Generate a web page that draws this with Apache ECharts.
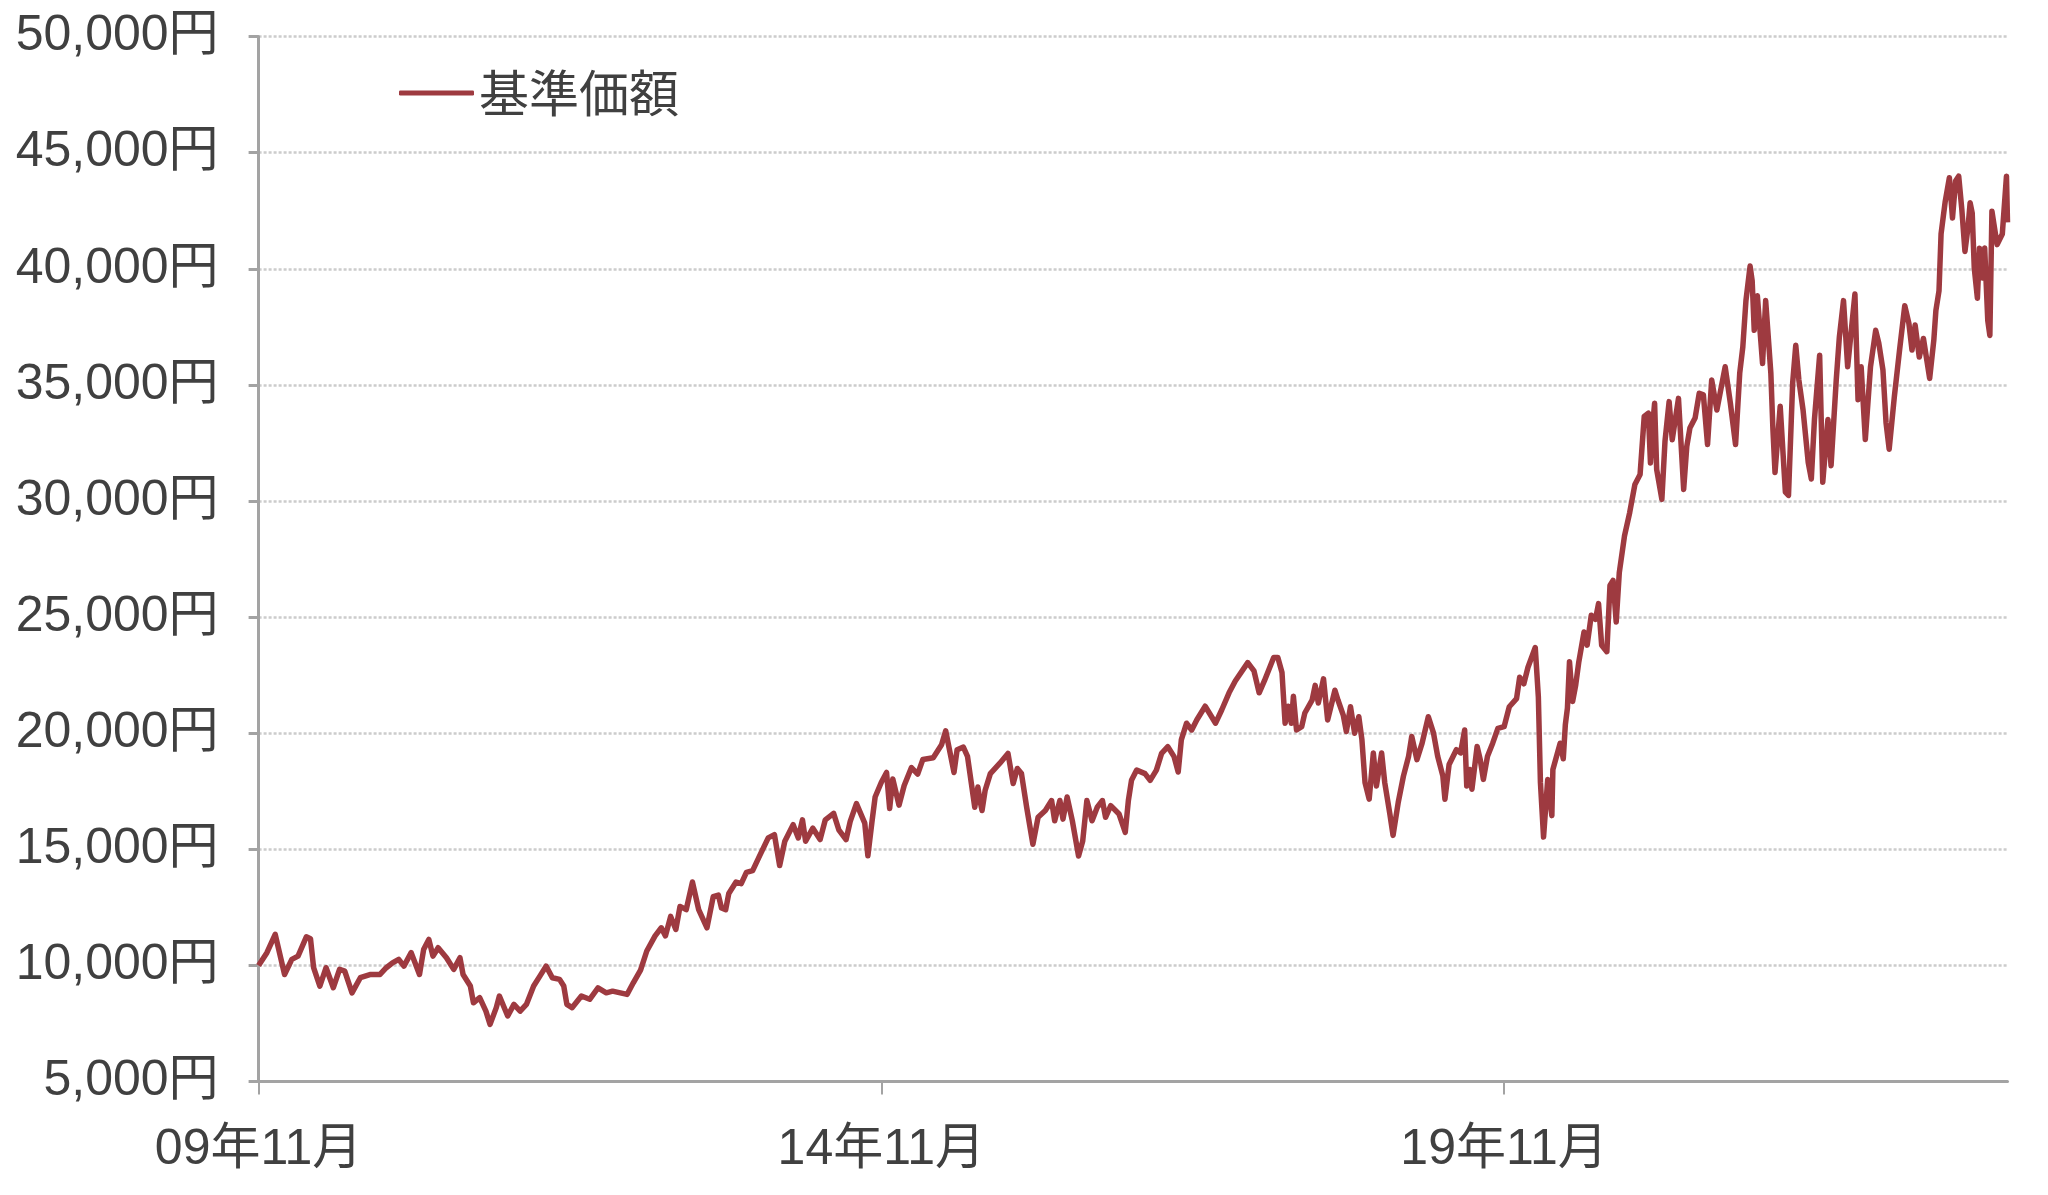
<!DOCTYPE html>
<html>
<head>
<meta charset="utf-8">
<script src="https://cdn.jsdelivr.net/npm/echarts@6/dist/echarts.min.js"></script>
<style>
html,body{margin:0;padding:0;background:#fff;}
#chart{width:2048px;height:1195px;}
</style>
</head>
<body>
<div id="chart"></div>
<script>
// x position: months elapsed since Nov 2009
const months = [
0,0.8,1.6,2.5,3.2,3.8,4.6,5.0,5.3,5.9,6.5,7.2,7.8,8.3,9.0,9.8,10.8,11.7,12.3,12.9,
13.5,14.0,14.7,15.5,15.9,16.4,16.8,17.3,18.1,18.8,19.4,19.7,20.4,20.7,21.3,21.9,22.3,22.9,23.2,24.0,
24.6,25.2,25.8,26.5,27.1,27.7,28.3,29.0,29.4,29.7,30.2,31.1,31.9,32.7,33.5,34.1,35.5,36.1,36.8,37.4,
38.2,38.8,39.2,39.7,40.2,40.6,41.2,41.8,42.4,43.2,43.8,44.3,44.6,45.0,45.3,46.0,46.5,47.0,47.6,48.2,
49.1,49.7,50.2,50.7,51.5,52.0,52.4,52.7,53.4,54.1,54.6,55.4,55.9,56.6,57.0,57.6,58.4,58.7,59.1,59.4,
60.0,60.5,60.8,61.1,61.7,62.2,62.9,63.5,64.0,65.0,65.8,66.2,67.0,67.3,67.9,68.3,69.0,69.3,69.5,69.7,
70.0,70.5,71.4,72.2,72.7,73.1,73.5,74.0,74.6,75.1,75.8,76.4,76.7,77.2,77.5,77.9,78.4,79.0,79.4,79.8,
80.3,80.8,81.3,81.6,82.1,82.9,83.5,83.8,84.1,84.6,85.4,85.9,86.5,87.0,87.6,88.2,88.6,88.9,89.4,89.9,
90.4,91.2,92.2,92.8,93.5,94.1,95.3,95.9,96.4,96.9,97.8,98.2,98.6,98.9,99.2,99.5,99.7,100.0,100.5,100.8,
101.5,101.8,102.1,102.6,103.0,103.7,104.0,104.5,104.8,105.2,105.6,106.0,106.3,106.6,107.0,107.4,107.7,108.2,108.5,109.0,
109.3,109.8,110.3,110.8,111.1,111.6,112.1,112.7,113.2,113.6,114.1,114.3,114.7,115.4,115.8,116.2,116.4,116.7,116.9,117.4,
117.7,118.0,118.4,118.9,119.4,120.0,120.5,121.2,121.5,121.9,122.3,123.0,123.3,123.5,123.8,124.2,124.6,124.7,125.4,125.7,
125.9,126.1,126.3,126.6,126.9,127.2,127.7,128.0,128.4,128.8,129.1,129.4,129.9,130.2,130.5,130.8,131.1,131.6,132.1,132.6,
133.1,133.5,133.9,134.1,134.3,134.5,134.7,135.2,135.5,135.9,136.2,136.8,137.3,137.6,137.9,138.4,138.8,139.2,139.6,140.0,
140.5,141.3,141.8,142.3,142.7,143.0,143.3,143.7,143.9,144.1,144.4,144.9,145.2,145.7,145.9,146.1,146.6,147.1,147.4,147.8,
148.1,148.4,148.8,149.3,149.6,149.9,150.4,150.7,151.2,151.5,152.0,152.3,152.7,153.1,153.8,154.1,154.4,154.8,155.3,155.8,
156.1,156.5,156.8,157.1,157.6,158.1,158.6,159.0,159.3,159.6,160.0,160.4,161.0,161.4,161.6,161.9,162.1,162.5,162.9,163.2,
163.5,163.8,164.1,164.4,164.7,164.9,165.1,165.3,165.6,165.8,166.1,166.3,166.6,166.8,167.0,167.2,167.5,168.0,168.4,168.5
];
// 基準価額 (円)
const navValues = [
10000,10550,11340,9610,10260,10400,11230,11150,9900,9110,9900,9040,9830,9750,8820,9470,9610,9610,9900,10110,
10260,9970,10550,9610,10680,11120,10400,10760,10330,9830,10330,9610,9110,8390,8610,8030,7460,8180,8680,7820,
8320,8030,8320,9110,9540,9970,9470,9400,9110,8320,8180,8680,8540,9030,8820,8890,8750,9250,9800,10620,
11270,11620,11270,12110,11550,12540,12400,13590,12400,11620,12960,13030,12470,12400,13100,13590,13520,14010,14080,14650,
15490,15630,14300,15350,16060,15490,16270,15350,15910,15420,16270,16550,15840,15420,16200,16970,16130,14720,16200,17250,
17890,18310,16760,18030,16900,17750,18520,18240,18870,18940,19500,20100,18310,19290,19400,19000,16810,17680,17100,16670,
17540,18260,18700,19130,17830,18480,18260,16810,15220,16380,16670,17100,16230,17100,16300,17250,16230,14710,15360,17100,
16230,16810,17100,16380,16880,16520,15730,17100,17970,18410,18260,17970,18410,19130,19420,18990,18330,19710,20430,20140,
20580,21160,20430,21010,21740,22250,23040,22680,21740,22250,23260,23260,22610,20430,21160,20430,21590,20140,20280,20870,
21420,22060,21300,22340,20570,21850,21420,20780,20070,21140,20000,20710,19720,17870,17160,19150,17730,19150,17870,16500,
15600,17020,18150,19010,19860,18860,19570,20710,20000,19010,18150,17160,18650,19290,19150,20140,17730,18440,17590,19430,
18860,18010,19010,19570,20210,20280,21140,21490,22410,22130,22840,23690,21560,17870,15530,18010,16450,18440,19570,18900,
20370,21080,23080,21370,22080,23080,24360,23790,25080,24900,25580,23790,23510,26360,26580,24790,26930,28500,29500,30710,
31140,33640,33780,31640,33200,34210,31360,30070,32570,34280,32640,34420,30500,32350,33140,33570,34640,34570,32430,35210,
33920,35780,34210,32430,35500,36640,38630,40120,39480,37350,38840,35920,38630,35500,33080,31230,34080,30380,30240,35070,
36710,35210,33930,31660,30950,33510,36280,30810,33510,31520,35210,37060,38630,35780,38910,34360,35780,32650,35780,37350,
36800,35640,33360,32230,34500,36500,38410,37650,36500,37580,36200,37000,35280,36920,38200,39050,41500,42900,43920,42190,
43780,43990,42550,40750,41800,42840,42400,40030,38730,40890,39600,40900,37770,37130,42480,41900,41040,41500,43990,42000
];
const xTickValues = [0, 60, 120];
const xTickLabels = ['09年11月', '14年11月', '19年11月'];
const yMin = 5000, yMax = 50000, yStep = 5000;
const seriesName = '基準価額';

const lineData = months.map((m, i) => [m, navValues[i]]);
const textColor = '#404040';
const axisGray = '#a3a3a3';
const fontLatin = "'Liberation Sans', 'Noto Sans CJK JP', sans-serif";

const chart = echarts.init(document.getElementById('chart'), null, {renderer: 'canvas'});
chart.setOption({
  animation: false,
  backgroundColor: '#ffffff',
  grid: {left: 258.6, right: 40.5, top: 36.6, bottom: 113.5, containLabel: false, outerBoundsMode: 'none'},
  legend: {
    show: true,
    left: 394, top: 63,
    icon: 'roundRect',
    itemWidth: 75, itemHeight: 5,
    textStyle: {fontSize: 50, color: textColor, fontFamily: "'Noto Sans CJK JP', sans-serif"},
    data: [seriesName]
  },
  xAxis: {
    type: 'value',
    min: 0, max: months[months.length - 1],
    axisLine: {show: true, lineStyle: {color: axisGray, width: 3}},
    axisTick: {show: true, customValues: xTickValues, length: 13, lineStyle: {color: axisGray, width: 2}},
    axisLabel: {
      show: true, customValues: xTickValues, margin: 44,
      fontSize: 50, color: textColor, fontFamily: fontLatin,
      formatter: v => { const i = xTickValues.indexOf(Math.round(v)); return i >= 0 ? xTickLabels[i] : ''; }
    },
    splitLine: {show: false}
  },
  yAxis: {
    type: 'value',
    min: yMin, max: yMax, interval: yStep,
    axisLine: {show: true, lineStyle: {color: axisGray, width: 3}},
    axisTick: {show: true, length: 10, lineStyle: {color: axisGray, width: 3}},
    axisLabel: {
      margin: 40, fontSize: 50, color: textColor, fontFamily: fontLatin,
      formatter: v => v.toLocaleString('en-US') + '円'
    },
    splitLine: {show: true, lineStyle: {color: '#cccccc', width: 2.5, type: [3, 2]}}
  },
  series: [{
    name: seriesName,
    type: 'line',
    data: lineData,
    showSymbol: false,
    symbol: 'none',
    lineStyle: {color: '#9e3a40', width: 5.5, join: 'round'},
    itemStyle: {color: '#9e3a40'},
    z: 3
  }]
});
</script>
</body>
</html>
